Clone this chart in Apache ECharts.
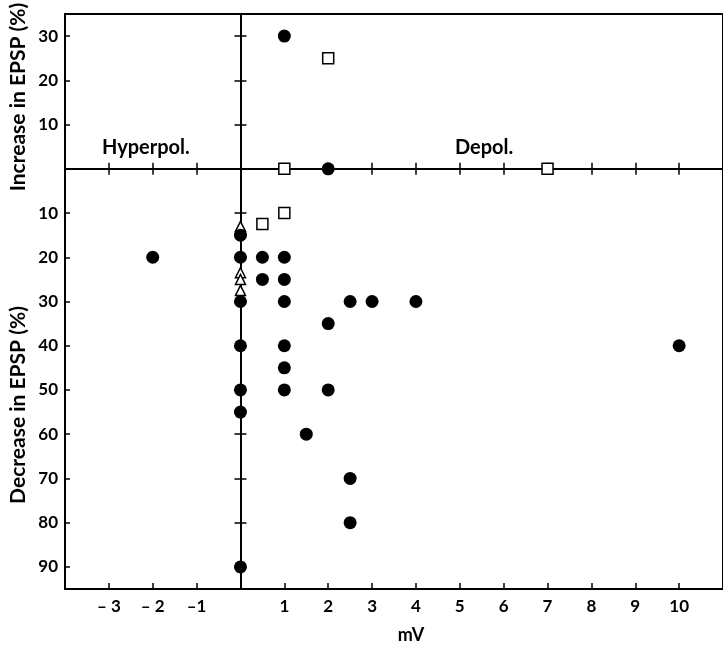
<!DOCTYPE html>
<html lang="en">

<head>
    <meta charset="UTF-8">
    <title>EPSP change vs membrane potential</title>
    <script src="https://cdn.jsdelivr.net/npm/echarts@6/dist/echarts.min.js"></script>
    <style>
        html, body { margin: 0; padding: 0; background: #fff; }
    </style>
</head>

<body>
    <div id="chart" style="width: 723px; height: 646px;"></div>

    <script>
        // x = mV (depol. positive), y = % change in EPSP (increase positive, decrease negative)
        var filledCircles = [
            [1, 30], [2, 0], [-2, -20],
            [0, -15], [0, -20], [0, -30], [0, -40], [0, -50], [0, -55], [0, -90],
            [0.5, -20], [0.5, -25],
            [1, -20], [1, -25], [1, -30], [1, -40], [1, -45], [1, -50],
            [1.5, -60], [2, -35], [2, -50],
            [2.5, -30], [3, -30], [4, -30],
            [2.5, -70], [2.5, -80], [10, -40]
        ];
        var openSquares = [[2, 25], [1, 0], [7, 0], [0.5, -12.5], [1, -10]];
        var openTriangles = [[0, -13], [0, -23.5], [0, -25], [0, -27.5]];

        var xTicks = [-3, -2, -1, 1, 2, 3, 4, 5, 6, 7, 8, 9, 10];
        var xTickLabels = ['\u2013 3', '\u2013 2', '\u20131', '1', '2', '3', '4', '5', '6', '7', '8', '9', '10'];
        var yTicks = [30, 20, 10, -10, -20, -30, -40, -50, -60, -70, -80, -90];

        var font = 'Lato, "Open Sans", sans-serif';
        var chart = echarts.init(document.getElementById('chart'));

        function xLabel(v) {
            var i = xTicks.indexOf(v);
            return i >= 0 ? xTickLabels[i] : '';
        }

        var lineStyle = { color: '#000', width: 2 };
        var tickStyle = { color: '#000', width: 1.5 };

        var option = {
            backgroundColor: '#fff',
            animation: false,
            grid: {
                left: 65, right: -3, top: 14, bottom: 57,
                show: true, borderColor: '#000', borderWidth: 2,
                containLabel: false
            },
            xAxis: [
                {
                    type: 'value', min: -4, max: 11, position: 'bottom',
                    axisLine: { show: false, onZero: false },
                    axisTick: { show: true, inside: true, length: 6, lineStyle: tickStyle, customValues: xTicks },
                    axisLabel: {
                        show: true, margin: 9, color: '#000', fontFamily: font, fontSize: 17, fontWeight: 'bold',
                        customValues: xTicks, formatter: xLabel
                    },
                    splitLine: { show: false }
                },
                {
                    type: 'value', min: -4, max: 11, position: 'bottom',
                    axisLine: { show: true, onZero: true, onZeroAxisIndex: 0, lineStyle: lineStyle },
                    axisTick: { show: true, inside: false, length: 6, lineStyle: tickStyle, customValues: xTicks },
                    axisLabel: { show: false },
                    splitLine: { show: false }
                },
                {
                    type: 'value', min: -4, max: 11, position: 'bottom',
                    axisLine: { show: false, onZero: true, onZeroAxisIndex: 0 },
                    axisTick: { show: true, inside: true, length: 6, lineStyle: tickStyle, customValues: xTicks },
                    axisLabel: { show: false },
                    splitLine: { show: false }
                }
            ],
            yAxis: [
                {
                    type: 'value', min: -95, max: 35, position: 'left',
                    axisLine: { show: false, onZero: false },
                    axisTick: { show: true, inside: true, length: 5, lineStyle: tickStyle, customValues: yTicks },
                    axisLabel: {
                        show: true, margin: 7, color: '#000', fontFamily: font, fontSize: 17, fontWeight: 'bold',
                        customValues: yTicks,
                        formatter: function (v) { return String(Math.abs(v)); }
                    },
                    splitLine: { show: false }
                },
                {
                    type: 'value', min: -95, max: 35, position: 'left',
                    axisLine: { show: true, onZero: true, onZeroAxisIndex: 0, lineStyle: lineStyle },
                    axisTick: { show: true, inside: false, length: 6, lineStyle: tickStyle, customValues: yTicks },
                    axisLabel: { show: false },
                    splitLine: { show: false }
                },
                {
                    type: 'value', min: -95, max: 35, position: 'left',
                    axisLine: { show: false, onZero: true, onZeroAxisIndex: 0 },
                    axisTick: { show: true, inside: true, length: 6, lineStyle: tickStyle, customValues: yTicks },
                    axisLabel: { show: false },
                    splitLine: { show: false }
                }
            ],
            graphic: [
                {
                    type: 'text', x: 18, y: 97, rotation: Math.PI / 2,
                    style: {
                        text: 'Increase in EPSP (%)', fill: '#000', fontFamily: font, fontSize: 21, fontWeight: 'bold',
                        align: 'center', verticalAlign: 'middle'
                    }
                },
                {
                    type: 'text', x: 18, y: 405, rotation: Math.PI / 2,
                    style: {
                        text: 'Decrease in EPSP (%)', fill: '#000', fontFamily: font, fontSize: 21, fontWeight: 'bold',
                        align: 'center', verticalAlign: 'middle'
                    }
                },
                {
                    type: 'text', x: 102, y: 148,
                    style: { text: 'Hyperpol.', fill: '#000', fontFamily: font, fontSize: 20, fontWeight: 'bold', verticalAlign: 'middle' }
                },
                {
                    type: 'text', x: 455, y: 148,
                    style: { text: 'Depol.', fill: '#000', fontFamily: font, fontSize: 20, fontWeight: 'bold', verticalAlign: 'middle' }
                },
                {
                    type: 'text', x: 411, y: 635,
                    style: { text: 'mV', fill: '#000', fontFamily: font, fontSize: 18, fontWeight: 'bold', align: 'center', verticalAlign: 'middle' }
                }
            ],
            series: [
                {
                    name: 'triangles', type: 'scatter', data: openTriangles,
                    symbol: 'triangle', symbolSize: 10,
                    itemStyle: { color: '#fff', borderColor: '#000', borderWidth: 1.5, opacity: 1 }
                },
                {
                    name: 'squares', type: 'scatter', data: openSquares,
                    symbol: 'rect', symbolSize: 11,
                    itemStyle: { color: '#fff', borderColor: '#000', borderWidth: 1.5, opacity: 1 }
                },
                {
                    name: 'circles', type: 'scatter', data: filledCircles,
                    symbol: 'circle', symbolSize: 13,
                    itemStyle: { color: '#000', opacity: 1 }
                }
            ]
        };

        option && chart.setOption(option);
    </script>

</body>

</html>
